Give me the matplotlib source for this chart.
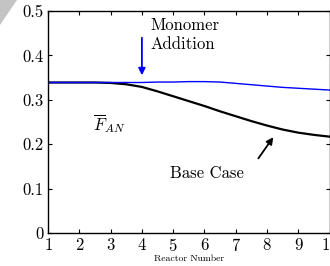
import matplotlib
matplotlib.use("Agg")
import matplotlib.pyplot as plt
from matplotlib.patches import Polygon

plt.rcParams['font.family'] = 'cmr10'
plt.rcParams['mathtext.fontset'] = 'cm'
plt.rcParams['axes.formatter.use_mathtext'] = True

# reactor positions (read at half steps along the smooth curves)
reactor = [1, 1.5, 2, 2.5, 3, 3.5, 4, 4.5, 5, 5.5, 6, 6.5, 7, 7.5, 8, 8.5, 9, 9.5, 10]
base_case = [0.339, 0.339, 0.339, 0.339, 0.338, 0.335, 0.329, 0.319, 0.308, 0.297,
             0.286, 0.274, 0.263, 0.252, 0.242, 0.233, 0.226, 0.221, 0.217]
monomer_add = [0.339, 0.339, 0.339, 0.339, 0.339, 0.339, 0.339, 0.340, 0.340, 0.341,
               0.341, 0.340, 0.337, 0.334, 0.331, 0.328, 0.326, 0.324, 0.322]

x_ticks = [1, 2, 3, 4, 5, 6, 7, 8, 9, 10]
y_ticks = [0, 0.1, 0.2, 0.3, 0.4, 0.5]
y_tick_labels = ['0', '0.1', '0.2', '0.3', '0.4', '0.5']


def main() -> None:
    fig = plt.figure(figsize=(3.3, 2.66), dpi=100)
    ax = fig.add_axes([0.1455, 0.124, 0.8535, 0.8346])

    ax.plot(reactor, base_case, color='black', lw=1.6)
    ax.plot(reactor, monomer_add, color='blue', lw=1.0)

    ax.set_xlim(1, 10)
    ax.set_ylim(0, 0.5)
    ax.set_xticks(x_ticks)
    ax.set_yticks(y_ticks)
    ax.set_yticklabels(y_tick_labels)
    ax.tick_params(direction='in', length=3, width=0.8, top=True, right=True,
                   labelsize=12, pad=3)
    for s in ax.spines.values():
        s.set_linewidth(1.0)

    ax.set_xlabel('Reactor Number', fontsize=7, labelpad=0)

    # annotations
    ax.annotate('', xy=(4, 0.349), xytext=(4, 0.446),
                arrowprops=dict(arrowstyle='-|>', color='blue', lw=1.3,
                                mutation_scale=10))
    ax.text(4.27, 0.447, 'Monomer\nAddition', fontsize=12, ha='left', va='center',
            linespacing=1.3)
    ax.annotate('', xy=(8.25, 0.221), xytext=(7.67, 0.163),
                arrowprops=dict(arrowstyle='-|>', color='black', lw=1.3,
                                mutation_scale=10))
    ax.text(4.9, 0.135, 'Base Case', fontsize=12, ha='left', va='center')
    ax.text(2.44, 0.247, r'$\overline{F}_{AN}$', fontsize=12, ha='left', va='center')

    # grey corner mark
    fig.patches.append(Polygon([[0, 1], [17 / 330, 1], [0, 1 - 25 / 266]],
                               closed=True, transform=fig.transFigure,
                               facecolor='#c4c4c4', edgecolor='none'))

    fig.savefig('out.png', dpi=100)


if __name__ == "__main__":
    main()
